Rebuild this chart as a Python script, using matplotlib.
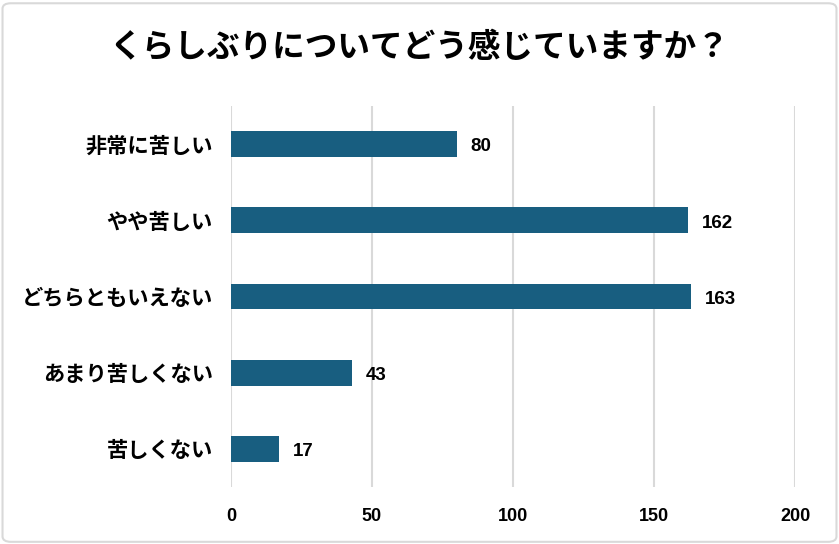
"""Horizontal bar chart: くらしぶりについてどう感じていますか？"""
import matplotlib
matplotlib.use("Agg")
import matplotlib.pyplot as plt
from matplotlib.patches import FancyBboxPatch

categories = ["非常に苦しい", "やや苦しい", "どちらともいえない", "あまり苦しくない", "苦しくない"]
counts = [80, 162, 163, 43, 17]
xticks = [0, 50, 100, 150, 200]
title = "くらしぶりについてどう感じていますか？"

JP = ["Noto Sans CJK JP", "DejaVu Sans"]
NUM = ["Liberation Sans", "DejaVu Sans"]
BAR = "#185e80"
GRID = "#d9d9d9"

fig = plt.figure(figsize=(8.39, 5.44), dpi=100)
ax = fig.add_axes([0.2753, 0.1048, 0.6723, 0.7003])

# frame round the whole chart
fig.patches.append(FancyBboxPatch((0.003, 0.004), 0.994, 0.99,
                                  boxstyle="round,pad=0,rounding_size=0.01",
                                  transform=fig.transFigure, fill=False,
                                  edgecolor=GRID, linewidth=1.5))

y = list(range(len(categories)))
ax.barh(y, counts, height=0.34, color=BAR, zorder=3)
for yi, v in zip(y, counts):
    # labels sit a touch below the bar centre, as in the original
    ax.annotate(str(v), (v, yi), xytext=(10, -2), textcoords="offset points",
                va="center", ha="left", fontsize=13.5, fontweight="bold",
                family=NUM)

ax.set_xlim(0, 200)
ax.set_ylim(len(categories) - 0.5, -0.5)
ax.set_xticks(xticks)
ax.set_xticklabels([str(t) for t in xticks], family=NUM, fontsize=13, fontweight="bold")
ax.set_yticks(y)
ax.set_yticklabels(categories, family=JP, fontsize=15.3, fontweight="bold")
ax.tick_params(axis="both", length=0)
ax.tick_params(axis="y", pad=13)
ax.tick_params(axis="x", pad=15)
ax.grid(axis="x", color=GRID, linewidth=1.5, zorder=0)
for s in ax.spines.values():
    s.set_visible(False)

fig.text(0.5, 0.913, title, ha="center", va="center", fontsize=23.5,
         fontweight="bold", family=JP)

fig.savefig("out.png", dpi=100)
